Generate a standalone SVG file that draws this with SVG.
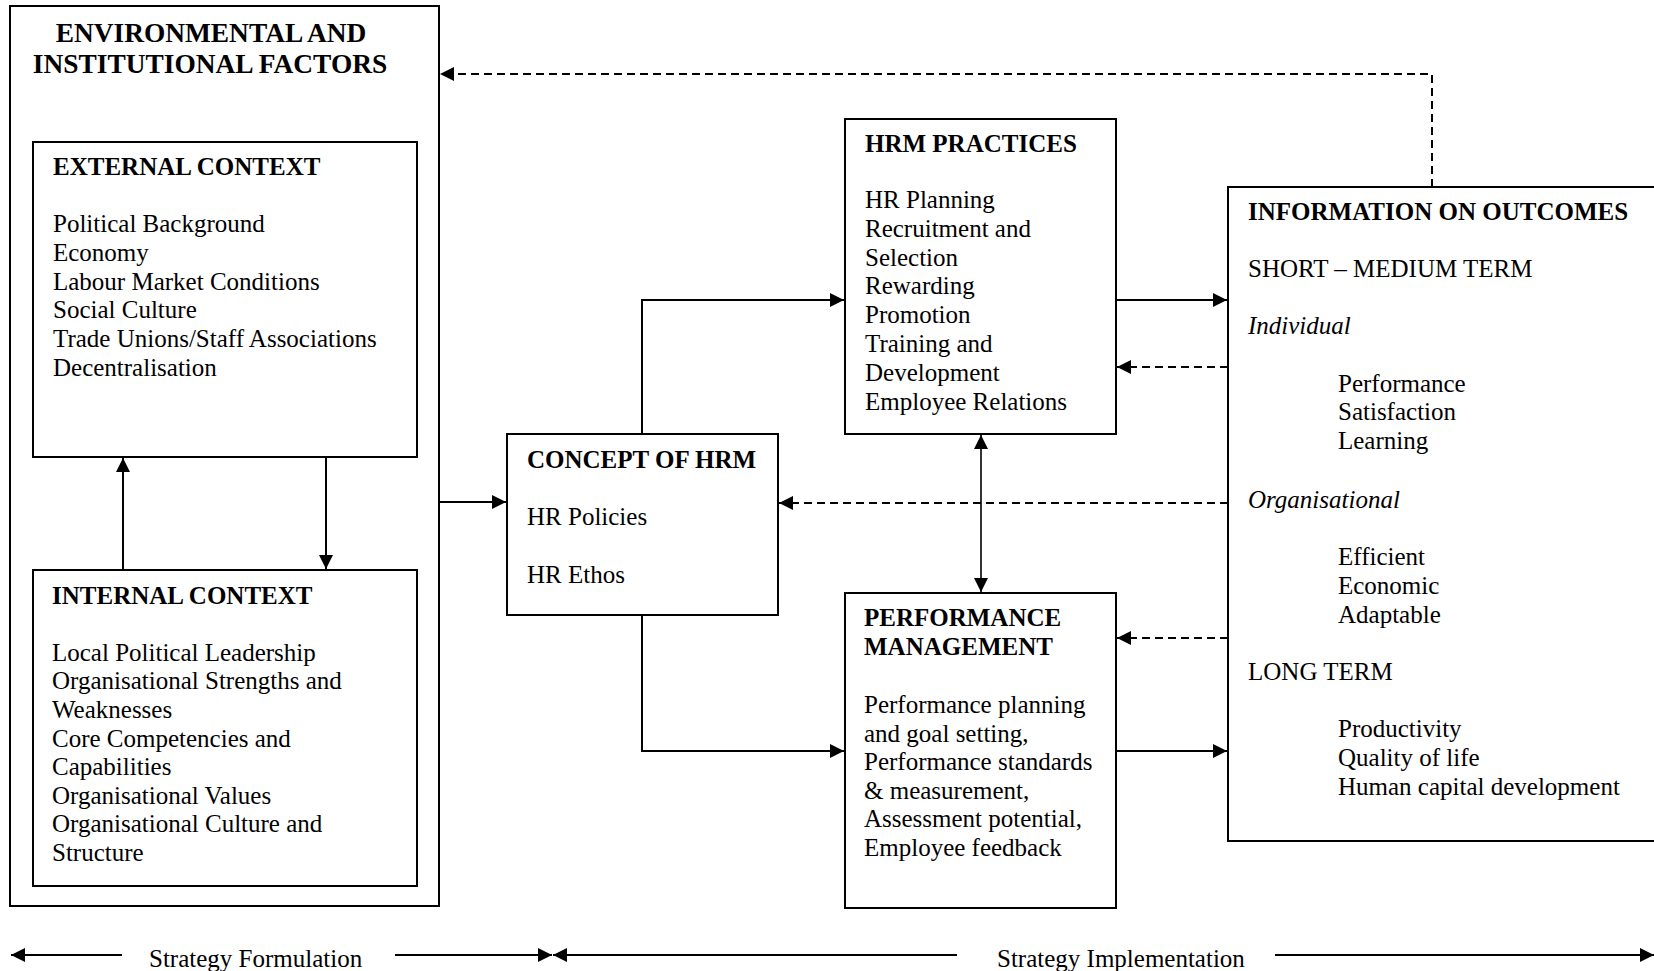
<svg xmlns="http://www.w3.org/2000/svg" width="1654" height="971" viewBox="0 0 1654 971">
<style>
.box{fill:#fff;stroke:#000;stroke-width:2}
.t{font-family:"Liberation Serif","Times New Roman",serif;font-size:25px;fill:#000}
.b{font-weight:bold}
.i{font-style:italic}
.ttl{font-family:"Liberation Serif","Times New Roman",serif;font-size:27.4px;font-weight:bold;fill:#000}
.c{fill:none;stroke:#000;stroke-width:2}
.d{stroke-dasharray:8 5}
</style>
<defs>
<marker id="ah" markerUnits="userSpaceOnUse" markerWidth="15" markerHeight="14" refX="14" refY="7" orient="auto-start-reverse">
<path d="M0,0 L14,7 L0,14 Z" fill="#000"/>
</marker>
</defs>
<rect width="1654" height="971" fill="#fff"/>

<g id="env">
<rect class="box" x="10" y="6" width="429" height="900"/>
<text class="ttl" x="211" y="42" text-anchor="middle">ENVIRONMENTAL AND</text>
<text class="ttl" x="210" y="73" text-anchor="middle">INSTITUTIONAL FACTORS</text>
</g>

<g id="external">
<rect class="box" x="33" y="142" width="384" height="315"/>
<text class="t b" x="53" y="175">EXTERNAL CONTEXT</text>
<text class="t" x="53" y="232">Political Background</text>
<text class="t" x="53" y="261">Economy</text>
<text class="t" x="53" y="290">Labour Market Conditions</text>
<text class="t" x="53" y="318">Social Culture</text>
<text class="t" x="53" y="347">Trade Unions/Staff Associations</text>
<text class="t" x="53" y="376">Decentralisation</text>
</g>

<g id="internal">
<rect class="box" x="33" y="570" width="384" height="316"/>
<text class="t b" x="52" y="604">INTERNAL CONTEXT</text>
<text class="t" x="52" y="661">Local Political Leadership</text>
<text class="t" x="52" y="689">Organisational Strengths and</text>
<text class="t" x="52" y="718">Weaknesses</text>
<text class="t" x="52" y="747">Core Competencies and</text>
<text class="t" x="52" y="775">Capabilities</text>
<text class="t" x="52" y="804">Organisational Values</text>
<text class="t" x="52" y="832">Organisational Culture and</text>
<text class="t" x="52" y="861">Structure</text>
</g>

<g id="concept">
<rect class="box" x="507" y="434" width="271" height="181"/>
<text class="t b" x="527" y="468">CONCEPT OF HRM</text>
<text class="t" x="527" y="525">HR Policies</text>
<text class="t" x="527" y="583">HR Ethos</text>
</g>

<g id="practices">
<rect class="box" x="845" y="119" width="271" height="315"/>
<text class="t b" x="865" y="152">HRM PRACTICES</text>
<text class="t" x="865" y="208">HR Planning</text>
<text class="t" x="865" y="237">Recruitment and</text>
<text class="t" x="865" y="266">Selection</text>
<text class="t" x="865" y="294">Rewarding</text>
<text class="t" x="865" y="323">Promotion</text>
<text class="t" x="865" y="352">Training and</text>
<text class="t" x="865" y="381">Development</text>
<text class="t" x="865" y="410">Employee Relations</text>
</g>

<g id="perf">
<rect class="box" x="845" y="593" width="271" height="315"/>
<text class="t b" x="864" y="626">PERFORMANCE</text>
<text class="t b" x="864" y="655">MANAGEMENT</text>
<text class="t" x="864" y="713">Performance planning</text>
<text class="t" x="864" y="742">and goal setting,</text>
<text class="t" x="864" y="770">Performance standards</text>
<text class="t" x="864" y="799">&amp; measurement,</text>
<text class="t" x="864" y="827">Assessment potential,</text>
<text class="t" x="864" y="856">Employee feedback</text>
</g>

<g id="outcomes">
<rect class="box" x="1228" y="187" width="440" height="654"/>
<text class="t b" x="1248" y="220">INFORMATION ON OUTCOMES</text>
<text class="t" x="1248" y="277">SHORT – MEDIUM TERM</text>
<text class="t i" x="1248" y="334">Individual</text>
<text class="t" x="1338" y="392">Performance</text>
<text class="t" x="1338" y="420">Satisfaction</text>
<text class="t" x="1338" y="449">Learning</text>
<text class="t i" x="1248" y="508">Organisational</text>
<text class="t" x="1338" y="565">Efficient</text>
<text class="t" x="1338" y="594">Economic</text>
<text class="t" x="1338" y="623">Adaptable</text>
<text class="t" x="1248" y="680">LONG TERM</text>
<text class="t" x="1338" y="737">Productivity</text>
<text class="t" x="1338" y="766">Quality of life</text>
<text class="t" x="1338" y="795">Human capital development</text>
</g>

<g id="connectors">
<path class="c d" d="M1432,187 V74 H440" marker-end="url(#ah)"/>
<path class="c" d="M326,457 V569" marker-end="url(#ah)"/>
<path class="c" d="M123,570 V458" marker-end="url(#ah)"/>
<path class="c" d="M439,502 H506" marker-end="url(#ah)"/>
<path class="c" d="M642,434 V300 H844" marker-end="url(#ah)"/>
<path class="c" d="M642,615 V751 H844" marker-end="url(#ah)"/>
<path class="c" d="M1116,300 H1227" marker-end="url(#ah)"/>
<path class="c d" d="M1228,367 H1117" marker-end="url(#ah)"/>
<path class="c d" d="M1228,503 H779" marker-end="url(#ah)"/>
<path class="c d" d="M1228,638 H1117" marker-end="url(#ah)"/>
<path class="c" d="M1116,751 H1227" marker-end="url(#ah)"/>
<path class="c" style="stroke-width:1.6" d="M981,435 V592" marker-start="url(#ah)" marker-end="url(#ah)"/>
</g>

<g id="timeline">
<path class="c" d="M122,955 H11" marker-end="url(#ah)"/>
<path class="c" d="M395,955 H552" marker-end="url(#ah)"/>
<path class="c" d="M957,955 H553" marker-end="url(#ah)"/>
<path class="c" d="M1275,955 H1654" marker-end="url(#ah)"/>
<text class="t" x="149" y="967">Strategy Formulation</text>
<text class="t" x="997" y="967">Strategy Implementation</text>
</g>
</svg>
